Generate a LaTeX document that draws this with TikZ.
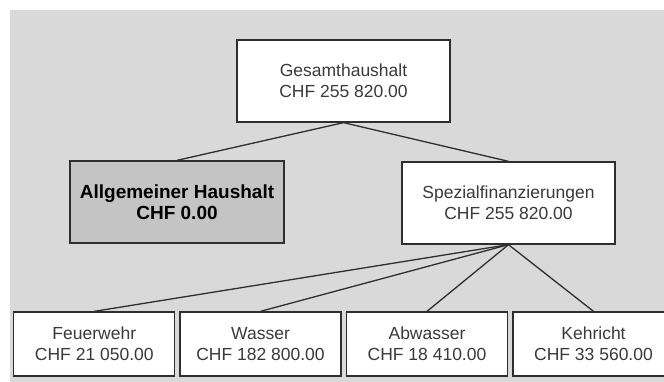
\documentclass[tikz,border=0pt]{standalone}
\usepackage{fontspec}
\setmainfont{Liberation Sans}
\definecolor{bggray}{HTML}{D9D9D9}
\definecolor{boxgray}{HTML}{C4C4C4}
\definecolor{linegray}{HTML}{2E2E2E}
\definecolor{txtgray}{HTML}{3A3A3A}
\tikzset{
  unit/.style={draw=linegray, line width=1.3pt, fill=white, inner sep=0pt,
    align=center, text=txtgray, font=\fontsize{17.5}{21.3}\selectfont,
    minimum height=82pt},
  topbox/.style={unit, minimum width=213pt},
  midbox/.style={unit, minimum width=213pt},
  leafbox/.style={unit, minimum width=161pt, minimum height=64pt},
  greybox/.style={unit, minimum width=214pt, fill=boxgray, text=black,
    font=\fontsize{19}{21.3}\selectfont\bfseries},
  conn/.style={draw=linegray, line width=1.3pt}
}
\begin{document}
\begin{tikzpicture}[x=1pt,y=-1pt]
\useasboundingbox (0,0) rectangle (664,382);
\clip (0,0) rectangle (664,382);
\fill[bggray] (10,10) rectangle (664,382);
\node[topbox] (gesamt) at (343.5,81) {Gesamthaushalt\\CHF 255 820.00};
\node[greybox] (allg) at (177,202) {Allgemeiner Haushalt\\CHF 0.00};
\node[midbox] (spez) at (508.5,203) {Spezialfinanzierungen\\CHF 255 820.00};
\node[leafbox] (feuer) at (94.3,344) {Feuerwehr\\CHF 21 050.00};
\node[leafbox] (wasser) at (260.5,344) {Wasser\\CHF 182 800.00};
\node[leafbox] (abw) at (427,344) {Abwasser\\CHF 18 410.00};
\node[leafbox] (kehr) at (593.5,344) {Kehricht\\CHF 33 560.00};
\draw[conn] (gesamt.south) -- (allg.north);
\draw[conn] (gesamt.south) -- (spez.north);
\draw[conn] (spez.south) -- (feuer.north);
\draw[conn] (spez.south) -- (wasser.north);
\draw[conn] (spez.south) -- (abw.north);
\draw[conn] (spez.south) -- (kehr.north);
\end{tikzpicture}
\end{document}
